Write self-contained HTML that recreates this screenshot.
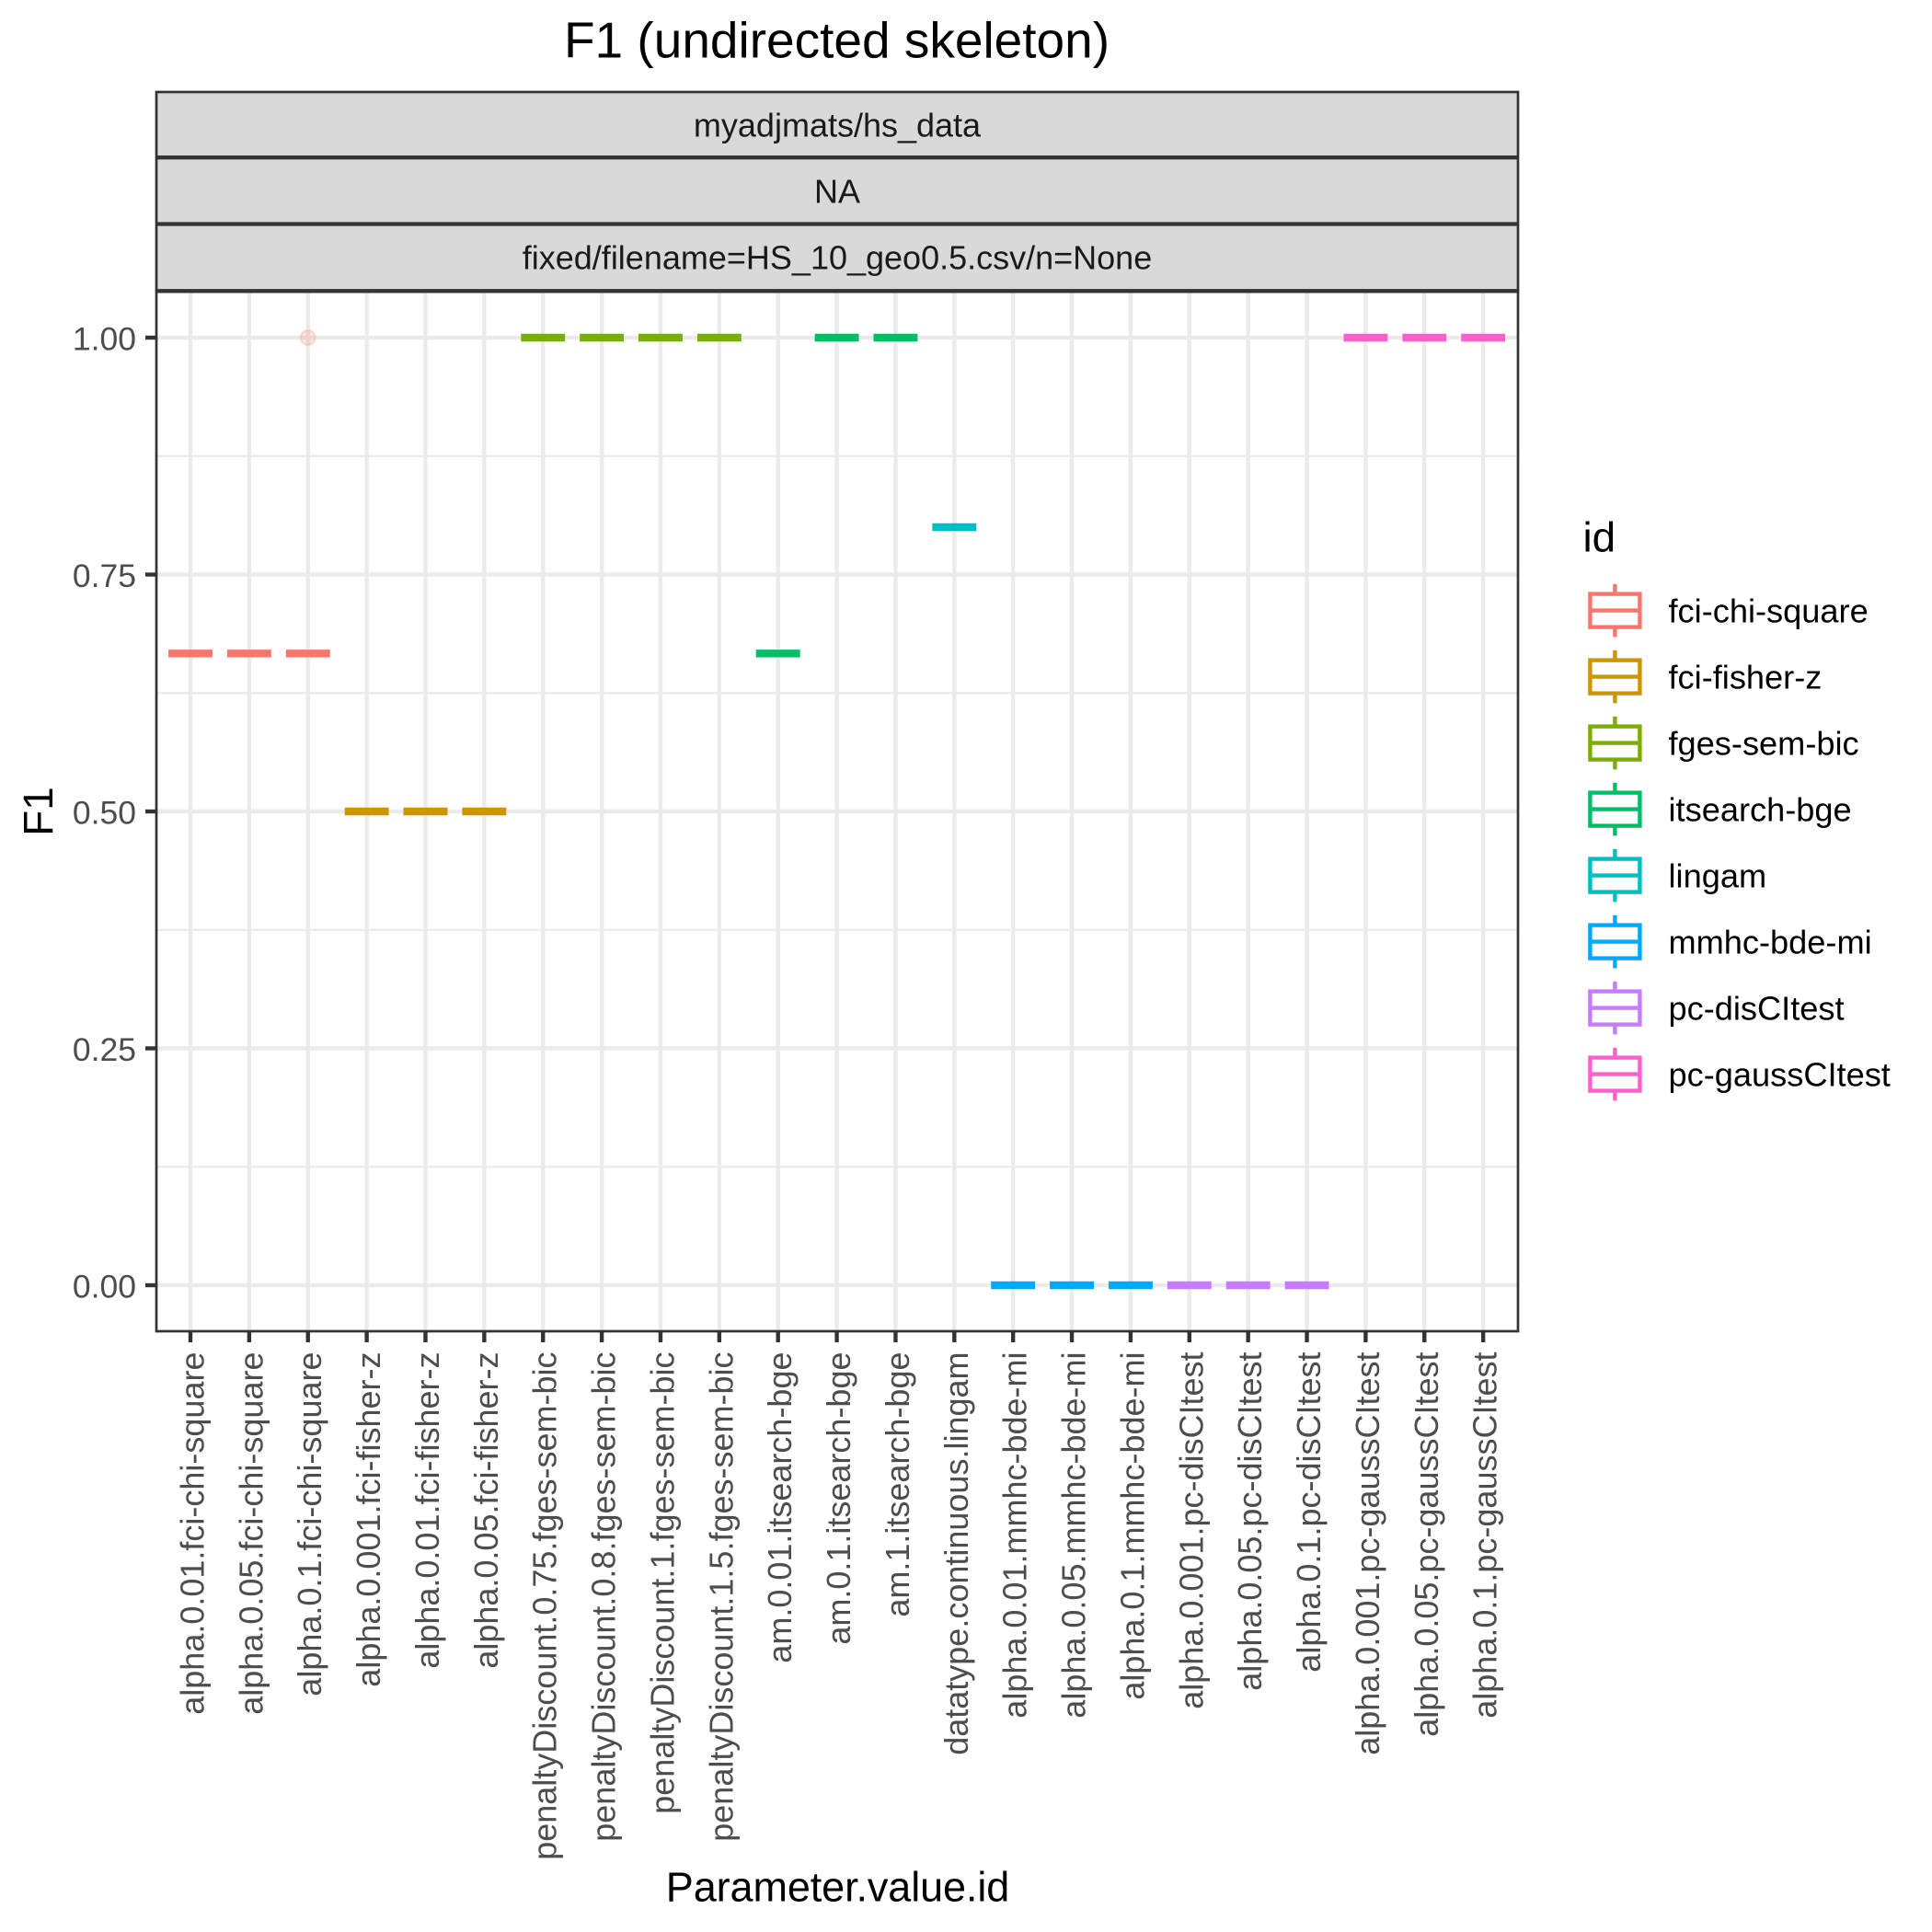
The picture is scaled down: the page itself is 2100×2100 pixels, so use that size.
<!DOCTYPE html>
<html lang="en">
<head>
<meta charset="utf-8">
<title>F1 (undirected skeleton)</title>
<style>
html,body{margin:0;padding:0;background:#fff;width:2100px;height:2100px;overflow:hidden}
svg{display:block;font-family:"Liberation Sans",Arial,Helvetica,sans-serif}
</style>
</head>
<body>
<svg id="chart" xmlns="http://www.w3.org/2000/svg" width="2100" height="2100" viewBox="0 0 2100 2100">
  <rect x="0" y="0" width="2100" height="2100" fill="#ffffff"/>
  <text x="909.5" y="62.5" font-size="55" text-anchor="middle" fill="#000">F1 (undirected skeleton)</text>
  <rect x="170" y="316" width="1480" height="1131" fill="#ffffff"/>
  <g id="grid"></g>
  <g id="marks"></g>
  <rect x="170" y="316" width="1480" height="1131" fill="none" stroke="#333333" stroke-width="2.7"/>
  <g>
    <rect x="170" y="100" width="1480" height="216.3" fill="#D9D9D9" stroke="#333333" stroke-width="2.7"/>
    <line x1="169" x2="1651" y1="171.2" y2="171.2" stroke="#333333" stroke-width="4.3"/>
    <line x1="169" x2="1651" y1="243.5" y2="243.5" stroke="#333333" stroke-width="4.3"/>
    <line x1="169" x2="1651" y1="316.3" y2="316.3" stroke="#333333" stroke-width="4.3"/>
    <text x="910" y="148.5" font-size="36" text-anchor="middle" fill="#1A1A1A">myadjmats/hs_data</text>
    <text x="910" y="220.5" font-size="36" text-anchor="middle" fill="#1A1A1A">NA</text>
    <text x="910" y="292.5" font-size="36" text-anchor="middle" fill="#1A1A1A">fixed/filename=HS_10_geo0.5.csv/n=None</text>
  </g>
  <g id="axes"></g>
  <text x="910.5" y="2066.7" font-size="45" letter-spacing="-0.1" text-anchor="middle" fill="#000">Parameter.value.id</text>
  <text transform="translate(57,882) rotate(-90)" x="0" y="0" font-size="45.8" text-anchor="middle" fill="#000">F1</text>
  <text x="1720.5" y="599.5" font-size="45.8" fill="#000">id</text>
  <g id="legend"></g>
</svg>
<script>
const categories = [
  "alpha.0.01.fci-chi-square","alpha.0.05.fci-chi-square","alpha.0.1.fci-chi-square",
  "alpha.0.001.fci-fisher-z","alpha.0.01.fci-fisher-z","alpha.0.05.fci-fisher-z",
  "penaltyDiscount.0.75.fges-sem-bic","penaltyDiscount.0.8.fges-sem-bic","penaltyDiscount.1.fges-sem-bic","penaltyDiscount.1.5.fges-sem-bic",
  "am.0.01.itsearch-bge","am.0.1.itsearch-bge","am.1.itsearch-bge",
  "datatype.continuous.lingam",
  "alpha.0.01.mmhc-bde-mi","alpha.0.05.mmhc-bde-mi","alpha.0.1.mmhc-bde-mi",
  "alpha.0.001.pc-disCItest","alpha.0.05.pc-disCItest","alpha.0.1.pc-disCItest",
  "alpha.0.001.pc-gaussCItest","alpha.0.05.pc-gaussCItest","alpha.0.1.pc-gaussCItest"
];
const f1Values = [
  0.6667,0.6667,0.6667,
  0.5,0.5,0.5,
  1,1,1,1,
  0.6667,1,1,
  0.8,
  0,0,0,
  0,0,0,
  1,1,1
];
const seriesIndex = [0,0,0,1,1,1,2,2,2,2,3,3,3,4,5,5,5,6,6,6,7,7,7];
const seriesNames = ["fci-chi-square","fci-fisher-z","fges-sem-bic","itsearch-bge","lingam","mmhc-bde-mi","pc-disCItest","pc-gaussCItest"];
const seriesColors = ["#F8766D","#CD9600","#7CAE00","#00BE67","#00BFC4","#00A9FF","#C77CFF","#FF61CC"];
const outlierCategory = [2];
const outlierValue = [1];
const yTicks = [0,0.25,0.5,0.75,1];
const yTickLabels = ["0.00","0.25","0.50","0.75","1.00"];
const yMinorTicks = [0.125,0.375,0.625,0.875];

const NS = "http://www.w3.org/2000/svg";
const PANEL = {left:170,right:1650,top:316,bottom:1447};
const xStep = 63.87;
function xScale(i){ return 207 + i * xStep; }
function yScale(v){ return 1397 - v * 1030; }
function make(tag, parent, attrs){
  const el = document.createElementNS(NS, tag);
  for (const k in attrs) el.setAttribute(k, attrs[k]);
  parent.appendChild(el);
  return el;
}
const grid = document.getElementById("grid");
const marks = document.getElementById("marks");
const axes = document.getElementById("axes");
const legend = document.getElementById("legend");

yMinorTicks.forEach(function(v){
  const el = make("line", grid, {x1:PANEL.left,x2:PANEL.right,y1:yScale(v),y2:yScale(v),stroke:"#EBEBEB","stroke-width":2.2});
  
  
});
yTicks.forEach(function(v){
  const el = make("line", grid, {x1:PANEL.left,x2:PANEL.right,y1:yScale(v),y2:yScale(v),stroke:"#EBEBEB","stroke-width":4.4});
  
  
});
categories.forEach(function(c,i){
  const el = make("line", grid, {x1:xScale(i),x2:xScale(i),y1:PANEL.top,y2:PANEL.bottom,stroke:"#EBEBEB","stroke-width":4.4});
  
  
});

const boxWidth = 0.75 * xStep;
f1Values.forEach(function(v,i){
  const el = make("line", marks, {x1:xScale(i)-boxWidth/2,x2:xScale(i)+boxWidth/2,y1:yScale(v),y2:yScale(v),stroke:seriesColors[seriesIndex[i]],"stroke-width":8.4});
  
  
});
outlierCategory.forEach(function(c,i){
  const color = seriesColors[seriesIndex[c]];
  const el = make("circle", marks, {cx:xScale(c),cy:yScale(outlierValue[i]),r:8,fill:color,"fill-opacity":0.2,stroke:color,"stroke-opacity":0.2,"stroke-width":2.2});
  
  
});

yTicks.forEach(function(v,i){
  const t = make("line", axes, {x1:PANEL.left-12,x2:PANEL.left,y1:yScale(v),y2:yScale(v),stroke:"#333333","stroke-width":4.4});
  
  
  const l = make("text", axes, {x:148,y:yScale(v)+13.3,"font-size":35.5,"text-anchor":"end",fill:"#4D4D4D"});
  l.textContent = yTickLabels[i];
  
  
});
categories.forEach(function(c,i){
  const x = xScale(i);
  const t = make("line", axes, {x1:x,x2:x,y1:PANEL.bottom,y2:PANEL.bottom+12,stroke:"#333333","stroke-width":4.4});
  
  
  const l = make("text", axes, {transform:"translate("+(x+14.5)+",1469.5) rotate(-90)",x:0,y:0,"font-size":36,"text-anchor":"end",fill:"#4D4D4D"});
  l.textContent = c;
  
  
});

seriesNames.forEach(function(name,i){
  const cy = 663.6 + i * 72;
  const cx = 1755.4;
  const color = seriesColors[i];
  const g = make("g", legend, {fill:"none",stroke:color,"stroke-width":4.4});
  
  
  const box = make("rect", g, {x:cx-27,y:cy-18,width:54,height:36});
  
  
  const med = make("line", g, {x1:cx-27,x2:cx+27,y1:cy,y2:cy});
  
  
  const w1 = make("line", g, {x1:cx,x2:cx,y1:cy-28.8,y2:cy-18});
  
  
  const w2 = make("line", g, {x1:cx,x2:cx,y1:cy+18,y2:cy+28.8});
  
  
  const l = make("text", legend, {x:1813.5,y:cy+13,"font-size":36.2,fill:"#000"});
  l.textContent = name;
  
  
});
</script>
</body>
</html>
